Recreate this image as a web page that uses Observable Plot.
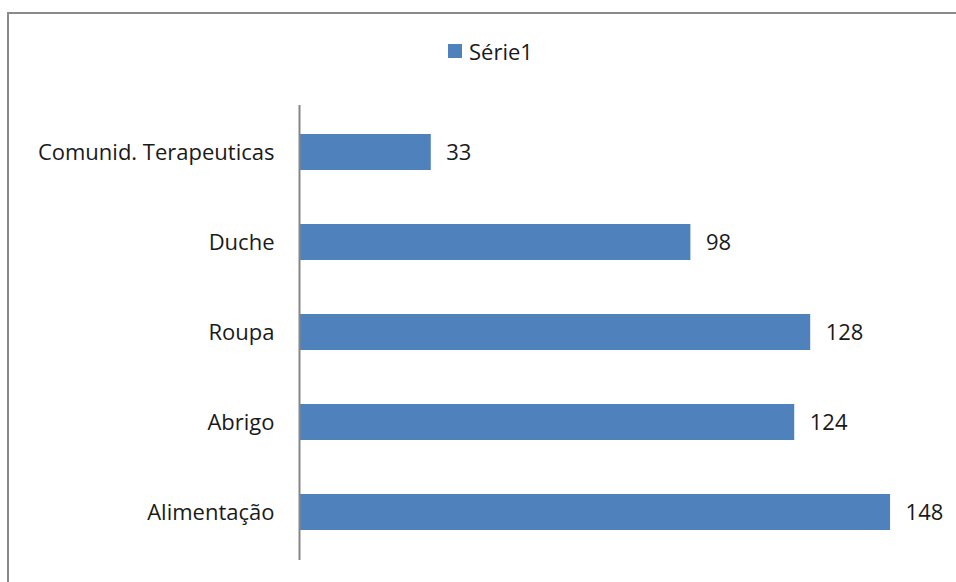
<!DOCTYPE html>
<html>
<head>
<meta charset="utf-8">
<script src="https://cdn.jsdelivr.net/npm/d3@7"></script>
<script src="https://cdn.jsdelivr.net/npm/@observablehq/plot@0.6"></script>
<style>
  html, body { margin: 0; padding: 0; background: #fff; overflow: hidden; }
  body { width: 956px; height: 582px; position: relative; font-family: "Open Sans", sans-serif; }
  #frame {
    position: absolute; left: 7px; top: 12px; width: 1000px; height: 620px;
    border: 2px solid #8a8a8a; box-sizing: border-box;
  }
  #legend {
    position: absolute; left: 448px; top: 36px; display: flex; align-items: center;
    font-size: 22px; color: #1a1a1a; gap: 7px;
  }
  #legend .swatch { width: 14px; height: 14px; background: #4F81BD; }
  #chart { position: absolute; left: 0; top: 0; }
</style>
</head>
<body>
<div id="frame"></div>
<div id="legend"><span class="swatch"></span><span>Série1</span></div>
<div id="chart"></div>
<script>
// Categories listed top to bottom, with their counts
const categories = ["Comunid. Terapeuticas", "Duche", "Roupa", "Abrigo", "Alimentação"];
const values = [33, 98, 128, 124, 148];
const seriesName = "Série1";

const data = categories.map((c, i) => ({category: c, value: values[i], series: seriesName}));

const chart = Plot.plot({
  width: 956,
  height: 582,
  marginLeft: 299,
  marginRight: 18,
  marginTop: 105,
  marginBottom: 22,
  style: {fontFamily: "Open Sans, sans-serif", fontSize: "22px", color: "#1a1a1a", background: "transparent"},
  x: {domain: [0, 160], axis: null},
  y: {domain: categories, paddingInner: 0.6, paddingOuter: 0.32, label: null, tickSize: 0, tickPadding: 25},
  marks: [
    Plot.barX(data, {x: "value", y: "category", fill: "#4F81BD"}),
    Plot.ruleX([0], {stroke: "#868686", strokeWidth: 2}),
    Plot.text(data, {x: "value", y: "category", text: d => String(d.value), textAnchor: "start", dx: 15, fill: "#1a1a1a", fontSize: 22})
  ]
});
document.getElementById("chart").append(chart);
</script>
</body>
</html>
